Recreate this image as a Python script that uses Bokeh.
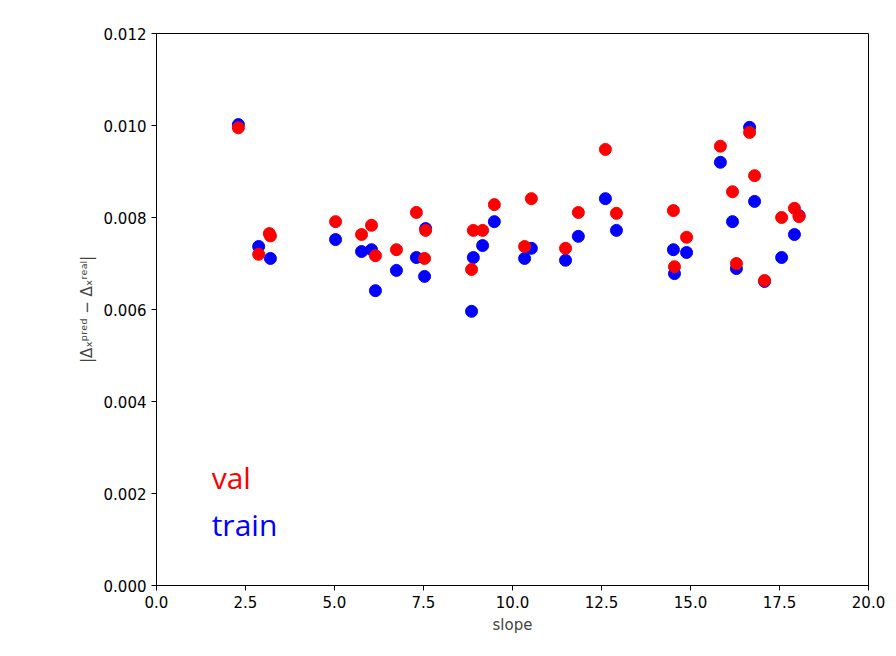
from bokeh.plotting import figure
from bokeh.models import Range1d, FixedTicker
from bokeh.core.properties import value
from bokeh.embed import file_html
from bokeh.resources import INLINE

slope = [2.30, 2.87, 3.20, 5.03, 5.76, 6.04, 6.15, 6.74, 7.30, 7.53, 7.56,
         8.85, 8.90, 9.16, 9.49, 10.34, 10.53, 11.49, 11.85, 12.61, 12.92,
         14.52, 14.55, 14.89, 15.84, 16.18, 16.29, 16.66, 16.80, 17.08,
         17.56, 17.92, 18.05]
train = [0.01002, 0.00737, 0.00711, 0.00752, 0.00726, 0.00730, 0.00641, 0.00685,
         0.00713, 0.00672, 0.00776, 0.00596, 0.00713, 0.00739, 0.00791, 0.00711,
         0.00733, 0.00707, 0.00759, 0.00841, 0.00772, 0.00730, 0.00678, 0.00724,
         0.00920, 0.00791, 0.00689, 0.00996, 0.00835, 0.00661, 0.00713, 0.00763,
         0.00804]
val = [0.00995, 0.00720, 0.00760, 0.00791, 0.00763, 0.00783, 0.00717, 0.00730,
       0.00811, 0.00711, 0.00772, 0.00687, 0.00772, 0.00772, 0.00828, 0.00737,
       0.00841, 0.00733, 0.00811, 0.00948, 0.00809, 0.00815, 0.00693, 0.00757,
       0.00955, 0.00856, 0.00700, 0.00985, 0.00891, 0.00663, 0.00800, 0.00820,
       0.00802]
# extra val point at slope 3.17
slope_extra = [3.17]
val_extra = [0.00765]

x_ticks = [0, 2.5, 5, 7.5, 10, 12.5, 15, 17.5, 20]
y_ticks = [0, 0.002, 0.004, 0.006, 0.008, 0.010, 0.012]

p = figure(width=888, height=648, output_backend="svg", toolbar_location=None,
           x_range=Range1d(0, 20), y_range=Range1d(0, 0.012),
           min_border_left=156, min_border_right=20, min_border_top=33,
           min_border_bottom=63)
p.grid.visible = False
p.outline_line_color = "black"
p.xaxis.ticker = FixedTicker(ticks=x_ticks)
p.yaxis.ticker = FixedTicker(ticks=y_ticks)
p.xaxis.major_label_overrides = {t: "%.1f" % t for t in x_ticks}
p.yaxis.major_label_overrides = {t: "%.3f" % t for t in y_ticks}
for ax in (p.xaxis[0], p.yaxis[0]):
    ax.major_label_text_font = "DejaVu Sans"
    ax.major_label_text_font_size = "15px"
    ax.major_label_text_color = "black"
    ax.axis_label_text_font = "DejaVu Sans"
    ax.axis_label_text_font_size = "15px"
    ax.axis_label_text_font_style = "normal"
    ax.minor_tick_line_color = None
    ax.major_tick_out = 5
    ax.major_tick_in = 0
    ax.axis_line_color = "black"
p.xaxis.axis_label = "slope"
p.yaxis.axis_label = "|Δₓᵖʳᵉᵈ − Δₓʳᵉᵃˡ|"

p.scatter(slope, train, size=12, color="blue")
p.scatter(slope, val, size=12, color="red")
p.scatter(slope_extra, val_extra, size=12, color="red")

p.text([1.55], [0.0019], text=["val"], text_color="red", text_font=value("Open Sans"),
       text_font_size="30px", text_baseline="bottom")
p.text([1.55], [0.00088], text=["train"], text_color="blue", text_font=value("Open Sans"),
       text_font_size="30px", text_baseline="bottom")

open("out.html", "w").write(file_html(p, INLINE))
